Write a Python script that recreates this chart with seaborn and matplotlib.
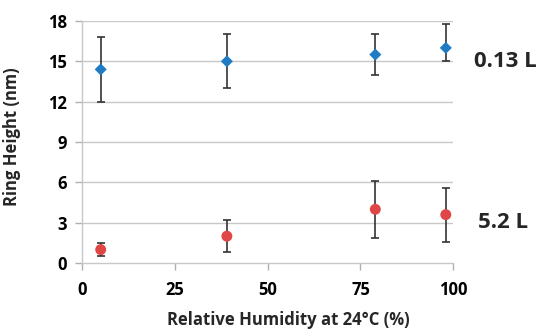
import matplotlib
matplotlib.use('Agg')
import matplotlib.pyplot as plt
import seaborn as sns
import pandas as pd

humidity = [5, 39, 79, 98]
height_013 = [14.4, 15.0, 15.5, 16.0]
err_013_low = [12.0, 13.0, 14.0, 15.0]
err_013_high = [16.8, 17.0, 17.0, 17.8]
height_52 = [1.0, 2.0, 4.0, 3.6]
err_52_low = [0.5, 0.8, 1.9, 1.6]
err_52_high = [1.5, 3.2, 6.1, 5.6]
xticks = [0, 25, 50, 75, 100]
yticks = [0, 3, 6, 9, 12, 15, 18]

sns.set_style('white')
plt.rcParams['font.family'] = ['Open Sans', 'DejaVu Sans']

df = pd.DataFrame({
    'humidity': humidity * 2,
    'height': height_013 + height_52,
    'low': err_013_low + err_52_low,
    'high': err_013_high + err_52_high,
    'volume': ['0.13 L'] * 4 + ['5.2 L'] * 4,
})

fig = plt.figure(figsize=(5.37, 3.33), dpi=100)
ax = fig.add_axes([0.153, 0.21, 0.691, 0.727])

grid_c = '#c8c8c8'
for yv in yticks[1:]:
    ax.axhline(yv, color=grid_c, lw=1, zorder=0)

# error bars
for _, r in df.iterrows():
    ax.errorbar(r['humidity'], r['height'],
                yerr=[[r['height'] - r['low']], [r['high'] - r['height']]],
                fmt='none', ecolor='#333333', elinewidth=1.2, capsize=3, capthick=1.2, zorder=2)

sns.scatterplot(data=df, x='humidity', y='height', hue='volume', style='volume',
                palette={'0.13 L': '#1f7cc4', '5.2 L': '#e04646'},
                markers={'0.13 L': 'D', '5.2 L': 'o'},
                size='volume', sizes={'0.13 L': 38, '5.2 L': 62},
                edgecolor='none', legend=False, ax=ax, zorder=3)

ax.set_xlim(0, 100)
ax.set_ylim(0, 18)
ax.set_xticks(xticks)
ax.set_yticks(yticks)
ax.tick_params(axis='both', labelsize=12, colors='#b0b0b0', labelcolor='black', length=5, width=1,
               direction='out', bottom=True, left=True)
for lab in ax.get_xticklabels() + ax.get_yticklabels():
    lab.set_fontweight('bold')
ax.tick_params(axis='x', pad=8)
ax.tick_params(axis='y', pad=6)
for s in ['top', 'right']:
    ax.spines[s].set_visible(False)
for s in ['left', 'bottom']:
    ax.spines[s].set_color(grid_c)
    ax.spines[s].set_linewidth(1)

ax.set_xlabel('Relative Humidity at 24°C (%)', fontsize=12, fontweight='bold')
ax.xaxis.set_label_coords(0.555, -0.2)
ax.set_ylabel('Ring Height (nm)', fontsize=12, fontweight='bold')
ax.yaxis.set_label_coords(-0.165, 0.52)

ax.text(1.055, 14.95, '0.13 L', transform=ax.get_yaxis_transform(), fontsize=16,
        fontweight='bold', va='center', ha='left')
ax.text(1.068, 3.05, '5.2 L', transform=ax.get_yaxis_transform(), fontsize=16,
        fontweight='bold', va='center', ha='left')

fig.savefig('out.png', dpi=100)
